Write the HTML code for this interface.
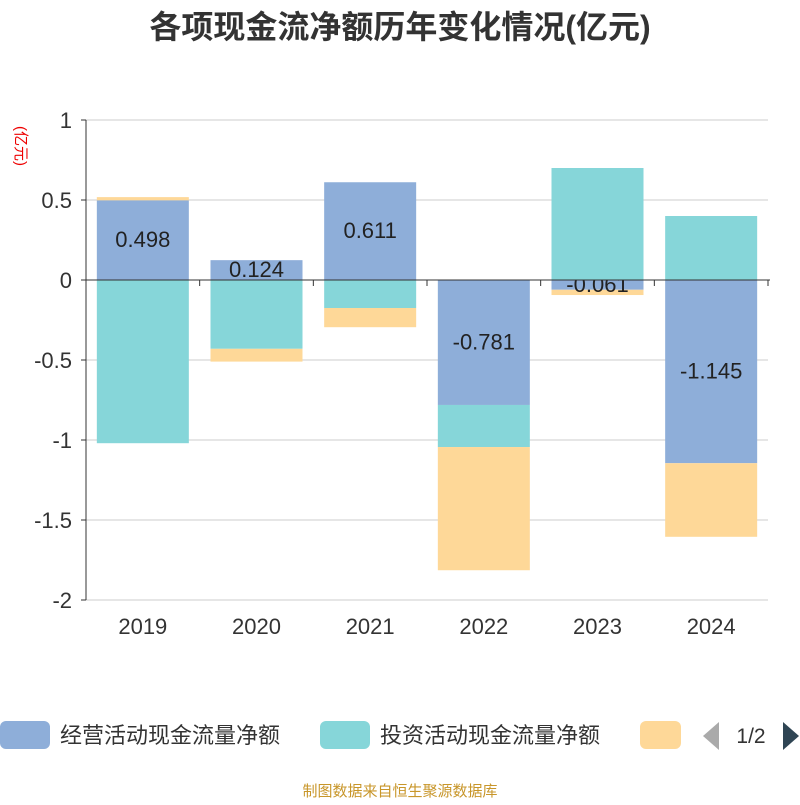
<!DOCTYPE html>
<html><head><meta charset="utf-8"><style>
body{margin:0;background:#fff;font-family:"Liberation Sans","Noto Sans CJK SC",sans-serif}
</style></head><body>
<svg id="c" width="800" height="800" xmlns="http://www.w3.org/2000/svg"></svg>
<script>
const categories=["2019","2020","2021","2022","2023","2024"];
const operating=[0.498,0.124,0.611,-0.781,-0.061,-1.145];
const investing=[-1.02,-0.43,-0.175,-0.263,0.70,0.40];
const financing=[0.02,-0.08,-0.12,-0.77,-0.033,-0.46];
const yTicks=[1,0.5,0,-0.5,-1,-1.5,-2];
const yTickLabels=["1","0.5","0","-0.5","-1","-1.5","-2"];
const NS="http://www.w3.org/2000/svg",svg=document.getElementById('c');
const L=86,R=768,T=120,B=600,yMax=1,yMin=-2;
const y=v=>T+(yMax-v)/(yMax-yMin)*(B-T);
const band=(R-L)/categories.length;
const xc=i=>L+band*(i+0.5);
function el(t,a,txt){const e=document.createElementNS(NS,t);for(const k in a)e.setAttribute(k,a[k]);if(txt!=null)e.textContent=txt;svg.appendChild(e);return e;}
const defs=el('defs',{});
const cp=document.createElementNS(NS,'clipPath');cp.setAttribute('id','belowZero');
const cr=document.createElementNS(NS,'rect');cr.setAttribute('x',0);cr.setAttribute('y',y(0));cr.setAttribute('width',800);cr.setAttribute('height',800);
cp.appendChild(cr);defs.appendChild(cp);
let e=el('text',{x:400,y:38,'text-anchor':'middle','font-size':32,'font-weight':'bold',fill:'#333'},'各项现金流净额历年变化情况(亿元)');


e=el('text',{x:0,y:0,'font-size':15,fill:'#e00',transform:'translate(16,146) rotate(90)','text-anchor':'middle'},'(亿元)');


yTicks.forEach((v,i)=>{
  const g=el('line',{x1:L,x2:R,y1:y(v),y2:y(v),stroke:'#ccc','stroke-width':1});
  
  
  el('line',{x1:L-5,x2:L,y1:y(v),y2:y(v),stroke:'#333'});
  const t=el('text',{x:L-14,y:y(v)+8,'text-anchor':'end','font-size':22,fill:'#333'},yTickLabels[i]);
  
  
});
const colors=['#8eaed9','#86d6d9','#fed898'];
const series=[operating,investing,financing];
const bw=92;
categories.forEach((c,i)=>{
  let pos=0,neg=0;
  series.forEach((s,k)=>{
    const v=s[i];let a,b;
    if(v>=0){a=pos;b=pos+v;pos=b;}else{a=neg;b=neg+v;neg=b;}
    const r=el('rect',{x:xc(i)-bw/2,y:Math.min(y(a),y(b)),width:bw,height:Math.abs(y(a)-y(b)),fill:colors[k]});
    
    
  });
});
categories.forEach((c,i)=>{
  const v=operating[i];
  const attrs={x:xc(i),y:(y(0)+y(v))/2+7,'text-anchor':'middle','font-size':22,fill:'#222'};
  if(v<0 && Math.abs(y(0)-y(v))<12) attrs['clip-path']='url(#belowZero)';
  const t=el('text',attrs,String(v));
  
  
  const xl=el('text',{x:xc(i),y:634,'text-anchor':'middle','font-size':22,fill:'#333'},c);
  
  
});
el('line',{x1:L,x2:L,y1:T,y2:B,stroke:'#333'});
el('line',{x1:L,x2:R+2,y1:y(0),y2:y(0),stroke:'#333'});
for(let i=0;i<=categories.length;i++)el('line',{x1:L+band*i,x2:L+band*i,y1:y(0),y2:y(0)+6,stroke:'#333'});
const leg=[['经营活动现金流量净额',0],['投资活动现金流量净额',320]];
leg.forEach((l,k)=>{
  const r=el('rect',{x:l[1],y:721,width:50,height:28,rx:6,fill:colors[k]});
  
  
  const t=el('text',{x:l[1]+60,y:743,'font-size':22,fill:'#333'},l[0]);
  
  
});
e=el('rect',{x:640,y:721,width:41,height:28,rx:6,fill:colors[2]});


e=el('polygon',{points:'719,722 719,750 703,736',fill:'#aaa'});


e=el('text',{x:751,y:743,'text-anchor':'middle','font-size':21,fill:'#333'},'1/2');


e=el('polygon',{points:'783,722 783,750 799,736',fill:'#2f4554'});


e=el('text',{x:400,y:796,'text-anchor':'middle','font-size':15,fill:'#c8962a'},'制图数据来自恒生聚源数据库');


</script>
</body></html>
